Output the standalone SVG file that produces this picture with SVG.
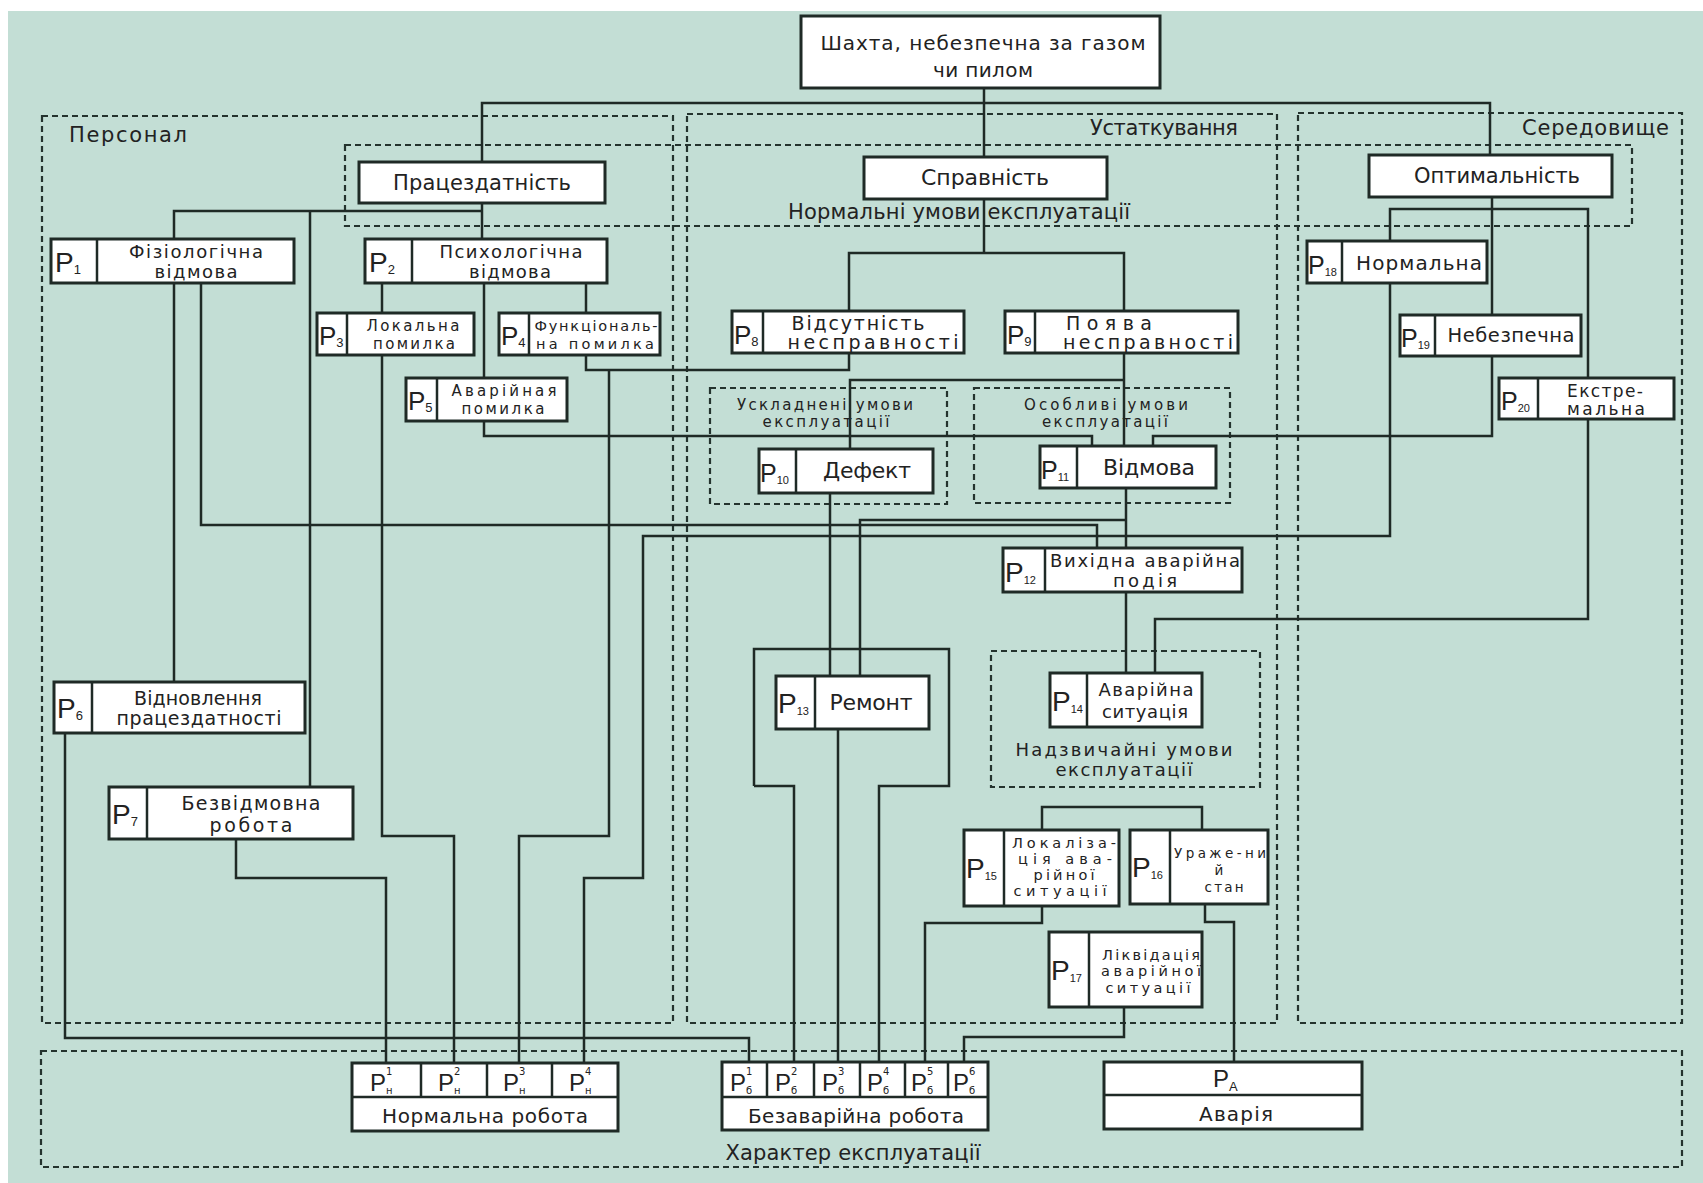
<svg xmlns="http://www.w3.org/2000/svg" width="1703" height="1183" viewBox="0 0 1703 1183">
<style>
.bg{fill:#c3ded5}
.box{fill:#fff;stroke:#1f2a26;stroke-width:3}
.dv{stroke:#1f2a26;stroke-width:2.5}
.dash{fill:none;stroke:#24332e;stroke-width:2.2;stroke-dasharray:6 4}
.ln{fill:none;stroke:#1f2a26;stroke-width:2.5}
text{font-family:"DejaVu Sans","Liberation Sans",Arial,sans-serif;fill:#222}
.t{text-anchor:middle}
.pl{font-family:"Liberation Sans",Arial,sans-serif;font-size:28px}
.sb{font-size:13px}
.sb2{font-size:11px}
.f21{font-size:21px}
.f19{font-size:19px}
.f18{font-size:18px}
.f17{font-size:17px}
.f16{font-size:15px}
.f15{font-size:14.5px}
.f14{font-size:13.5px}
.cp{font-family:"Liberation Sans",Arial,sans-serif;font-size:24px}
.cs{font-size:10px}
</style>
<rect x="0" y="0" width="1703" height="1183" fill="#ffffff"/>
<rect class="bg" x="8" y="11" width="1695" height="1172"/>

<g id="regions">
  <rect class="dash" x="42" y="116" width="631" height="907"/>
  <rect class="dash" x="687" y="114" width="590" height="909"/>
  <rect class="dash" x="1298" y="113" width="384" height="910"/>
  <rect class="dash" x="345" y="145" width="1287" height="81"/>
  <rect class="dash" x="710" y="388" width="237" height="116"/>
  <rect class="dash" x="974" y="388" width="256" height="115"/>
  <rect class="dash" x="991" y="651" width="269" height="136"/>
  <rect class="dash" x="41" y="1051" width="1641" height="116"/>
  <text class="f21" x="69" y="142" textLength="118">Персонал</text>
  <text class="f21" x="1238" y="135" text-anchor="end" textLength="148">Устаткування</text>
  <text class="f21" x="1669" y="135" text-anchor="end" textLength="147">Середовище</text>
  <text class="f21 t" x="959" y="219" textLength="342">Нормальні умови експлуатації</text>
  <text class="f16 t" x="825" y="410" textLength="176">Ускладнені умови</text>
  <text class="f16 t" x="826" y="427" textLength="127">експлуатації</text>
  <text class="f16 t" x="1106" y="410" textLength="164">Особливі умови</text>
  <text class="f16 t" x="1105" y="427" textLength="126">експлуатації</text>
  <text class="f18 t" x="1124" y="756" textLength="217">Надзвичайні умови</text>
  <text class="f18 t" x="1124" y="776" textLength="137">експлуатації</text>
  <text class="f21 t" x="853" y="1160" textLength="255">Характер експлуатації</text>
</g>

<g id="connectors">
  <path class="ln" d="M984,88 V157"/>
  <path class="ln" d="M482,162 V103 H1490 V155"/>
  <path class="ln" d="M482,203 V239"/>
  <path class="ln" d="M174,239 V211 H482"/>
  <path class="ln" d="M310,211 V787"/>
  <path class="ln" d="M174,283 V682"/>
  <path class="ln" d="M201,283 V525 H1097 V548"/>
  <path class="ln" d="M382,283 V313"/>
  <path class="ln" d="M484,283 V378"/>
  <path class="ln" d="M586,283 V313"/>
  <path class="ln" d="M382,355 V836 H454 V1063"/>
  <path class="ln" d="M586,355 V370 H849 V353"/>
  <path class="ln" d="M609,370 V836 H519 V1063"/>
  <path class="ln" d="M484,421 V436 H1092 V446"/>
  <path class="ln" d="M1153,446 V436 H1492 V356"/>
  <path class="ln" d="M65,733 V1038 H749 V1062"/>
  <path class="ln" d="M236,839 V878 H386 V1063"/>
  <path class="ln" d="M984,199 V253"/>
  <path class="ln" d="M849,311 V253 H1124 V311"/>
  <path class="ln" d="M1124,353 V446"/>
  <path class="ln" d="M1124,380 H850 V449"/>
  <path class="ln" d="M830,493 V676"/>
  <path class="ln" d="M1126,488 V548"/>
  <path class="ln" d="M1126,520 H860 V676"/>
  <path class="ln" d="M754,786 V649 H949 V786 H879 V1062"/>
  <path class="ln" d="M754,786 H794 V1062"/>
  <path class="ln" d="M838,729 V1062"/>
  <path class="ln" d="M1126,592 V673"/>
  <path class="ln" d="M1588,419 V619 H1155 V673"/>
  <path class="ln" d="M1492,196 V315"/>
  <path class="ln" d="M1390,241 V209 H1588 V378"/>
  <path class="ln" d="M1390,283 V536 H643 V878 H584 V1063"/>
  <path class="ln" d="M1042,830 V807 H1202 V830"/>
  <path class="ln" d="M1042,906 V923 H925 V1062"/>
  <path class="ln" d="M1205,904 V922 H1234 V1062"/>
  <path class="ln" d="M1124,1007 V1037 H964 V1062"/>
</g>

<g id="n-shakhta">
  <rect class="box" x="801" y="16" width="359" height="72"/>
  <text class="t" x="983" y="50" style="font-size:20px" textLength="325">Шахта, небезпечна за газом</text>
  <text class="t" x="983" y="77" style="font-size:20px" textLength="100">чи пилом</text>
</g>
<g id="n-pratsezdatnist">
  <rect class="box" x="359" y="162" width="246" height="41"/>
  <text class="f21 t" x="482" y="190" textLength="178">Працездатність</text>
</g>
<g id="n-spravnist">
  <rect class="box" x="864" y="157" width="243" height="42"/>
  <text class="t" x="985" y="185" style="font-size:22px" textLength="128">Справність</text>
</g>
<g id="n-optymalnist">
  <rect class="box" x="1369" y="155" width="243" height="42"/>
  <text class="f21 t" x="1497" y="183" textLength="166">Оптимальність</text>
</g>

<g id="p1">
  <rect class="box" x="51" y="239" width="243" height="44"/><line class="dv" x1="97" y1="239" x2="97" y2="283"/>
  <text class="pl" x="55" y="272">P<tspan class="sb" dy="2">1</tspan></text>
  <text class="f18 t" x="196" y="258" textLength="134">Фізіологічна</text>
  <text class="f18 t" x="196" y="278" textLength="83">відмова</text>
</g>
<g id="p2">
  <rect class="box" x="365" y="239" width="242" height="44"/><line class="dv" x1="412" y1="239" x2="412" y2="283"/>
  <text class="pl" x="369" y="272">P<tspan class="sb" dy="2">2</tspan></text>
  <text class="f18 t" x="511" y="258" textLength="143">Психологічна</text>
  <text class="f18 t" x="510" y="278" textLength="82">відмова</text>
</g>
<g id="p3">
  <rect class="box" x="317" y="313" width="157" height="42"/><line class="dv" x1="347" y1="313" x2="347" y2="355"/>
  <text class="pl" x="319" y="345" style="font-size:26px">P<tspan class="sb" dy="2">3</tspan></text>
  <text class="f16 t" x="413" y="331" textLength="93">Локальна</text>
  <text class="f16 t" x="414" y="349" textLength="82">помилка</text>
</g>
<g id="p4">
  <rect class="box" x="499" y="313" width="161" height="42"/><line class="dv" x1="529" y1="313" x2="529" y2="355"/>
  <text class="pl" x="501" y="345" style="font-size:26px">P<tspan class="sb" dy="2">4</tspan></text>
  <text class="f15 t" x="596" y="331" textLength="123">Функціональ-</text>
  <text class="f15 t" x="595" y="349" textLength="118">на помилка</text>
</g>
<g id="p5">
  <rect class="box" x="406" y="378" width="161" height="43"/><line class="dv" x1="437" y1="378" x2="437" y2="421"/>
  <text class="pl" x="408" y="410" style="font-size:26px">P<tspan class="sb" dy="2">5</tspan></text>
  <text class="f16 t" x="504" y="396" textLength="105">Аварійная</text>
  <text class="f16 t" x="503" y="414" textLength="83">помилка</text>
</g>
<g id="p6">
  <rect class="box" x="54" y="682" width="251" height="51"/><line class="dv" x1="92" y1="682" x2="92" y2="733"/>
  <text class="pl" x="57" y="718">P<tspan class="sb" dy="2">6</tspan></text>
  <text class="f19 t" x="198" y="705" textLength="128">Відновлення</text>
  <text class="f19 t" x="199" y="725" textLength="165">працездатності</text>
</g>
<g id="p7">
  <rect class="box" x="109" y="787" width="244" height="52"/><line class="dv" x1="147" y1="787" x2="147" y2="839"/>
  <text class="pl" x="112" y="824">P<tspan class="sb" dy="2">7</tspan></text>
  <text class="f19 t" x="251" y="810" textLength="139">Безвідмовна</text>
  <text class="f19 t" x="251" y="832" textLength="83">робота</text>
</g>
<g id="p8">
  <rect class="box" x="732" y="311" width="232" height="42"/><line class="dv" x1="763" y1="311" x2="763" y2="353"/>
  <text class="pl" x="734" y="344" style="font-size:26px">P<tspan class="sb" dy="2">8</tspan></text>
  <text class="f19 t" x="858" y="330" textLength="133">Відсутність</text>
  <text class="f19 t" x="873" y="349" textLength="171">несправності</text>
</g>
<g id="p9">
  <rect class="box" x="1005" y="311" width="233" height="42"/><line class="dv" x1="1035" y1="311" x2="1035" y2="353"/>
  <text class="pl" x="1007" y="344" style="font-size:26px">P<tspan class="sb" dy="2">9</tspan></text>
  <text class="f19 t" x="1109" y="330" textLength="86">Поява</text>
  <text class="f19 t" x="1148" y="349" textLength="170">несправності</text>
</g>
<g id="p10">
  <rect class="box" x="759" y="449" width="174" height="44"/><line class="dv" x1="796" y1="449" x2="796" y2="493"/>
  <text class="pl" x="760" y="482" style="font-size:25px">P<tspan class="sb2" dy="2">10</tspan></text>
  <text class="t" x="867" y="478" style="font-size:22px" textLength="88">Дефект</text>
</g>
<g id="p11">
  <rect class="box" x="1040" y="446" width="176" height="42"/><line class="dv" x1="1077" y1="446" x2="1077" y2="488"/>
  <text class="pl" x="1041" y="479" style="font-size:25px">P<tspan class="sb2" dy="2">11</tspan></text>
  <text class="t" x="1149" y="475" style="font-size:22px" textLength="92">Відмова</text>
</g>
<g id="p12">
  <rect class="box" x="1003" y="548" width="239" height="44"/><line class="dv" x1="1045" y1="548" x2="1045" y2="592"/>
  <text class="pl" x="1005" y="582">P<tspan class="sb2" dy="2">12</tspan></text>
  <text class="f18 t" x="1145" y="567" textLength="190">Вихідна аварійна</text>
  <text class="f18 t" x="1145" y="587" textLength="64">подія</text>
</g>
<g id="p13">
  <rect class="box" x="776" y="676" width="153" height="53"/><line class="dv" x1="815" y1="676" x2="815" y2="729"/>
  <text class="pl" x="778" y="713">P<tspan class="sb2" dy="2">13</tspan></text>
  <text class="t" x="871" y="710" style="font-size:22px" textLength="83">Ремонт</text>
</g>
<g id="p14">
  <rect class="box" x="1050" y="673" width="152" height="54"/><line class="dv" x1="1087" y1="673" x2="1087" y2="727"/>
  <text class="pl" x="1052" y="711">P<tspan class="sb2" dy="2">14</tspan></text>
  <text class="f18 t" x="1146" y="696" textLength="95">Аварійна</text>
  <text class="f18 t" x="1145" y="718" textLength="86">ситуація</text>
</g>
<g id="p15">
  <rect class="box" x="964" y="830" width="155" height="76"/><line class="dv" x1="1004" y1="830" x2="1004" y2="906"/>
  <text class="pl" x="966" y="878">P<tspan class="sb2" dy="2">15</tspan></text>
  <text class="f15 t" x="1064" y="848" textLength="104">Локаліза-</text>
  <text class="f15 t" x="1065" y="864" textLength="94">ція ава-</text>
  <text class="f15 t" x="1064" y="880" textLength="61">рійної</text>
  <text class="f15 t" x="1060" y="896" textLength="93">ситуації</text>
</g>
<g id="p16">
  <rect class="box" x="1130" y="830" width="138" height="74"/><line class="dv" x1="1170" y1="830" x2="1170" y2="904"/>
  <text class="pl" x="1132" y="877">P<tspan class="sb2" dy="2">16</tspan></text>
  <text class="f14 t" x="1220" y="858" textLength="92">Ураже-ни</text>
  <text class="f14 t" x="1219" y="875">й</text>
  <text class="f14 t" x="1224" y="892" textLength="39">стан</text>
</g>
<g id="p17">
  <rect class="box" x="1049" y="932" width="153" height="75"/><line class="dv" x1="1089" y1="932" x2="1089" y2="1007"/>
  <text class="pl" x="1051" y="980">P<tspan class="sb2" dy="2">17</tspan></text>
  <text class="f15 t" x="1151" y="960" textLength="98">Ліквідація</text>
  <text class="f15 t" x="1151" y="976" textLength="100">аварійної</text>
  <text class="f15 t" x="1148" y="993" textLength="85">ситуації</text>
</g>
<g id="p18">
  <rect class="box" x="1307" y="241" width="180" height="42"/><line class="dv" x1="1342" y1="241" x2="1342" y2="283"/>
  <text class="pl" x="1308" y="274" style="font-size:25px">P<tspan class="sb2" dy="2">18</tspan></text>
  <text class="t" x="1419" y="270" style="font-size:20px" textLength="126">Нормальна</text>
</g>
<g id="p19">
  <rect class="box" x="1400" y="315" width="181" height="41"/><line class="dv" x1="1435" y1="315" x2="1435" y2="356"/>
  <text class="pl" x="1401" y="347" style="font-size:25px">P<tspan class="sb2" dy="2">19</tspan></text>
  <text class="t" x="1511" y="342" style="font-size:19.5px" textLength="127">Небезпечна</text>
</g>
<g id="p20">
  <rect class="box" x="1499" y="378" width="175" height="41"/><line class="dv" x1="1538" y1="378" x2="1538" y2="419"/>
  <text class="pl" x="1501" y="410" style="font-size:25px">P<tspan class="sb2" dy="2">20</tspan></text>
  <text class="f17 t" x="1605" y="397" textLength="76">Екстре-</text>
  <text class="f17 t" x="1606" y="415" textLength="78">мальна</text>
</g>

<g id="normalna-robota">
  <rect class="box" x="352" y="1063" width="266" height="68"/>
  <line class="dv" x1="352" y1="1097" x2="618" y2="1097"/>
  <line class="dv" x1="421" y1="1063" x2="421" y2="1097"/>
  <line class="dv" x1="487" y1="1063" x2="487" y2="1097"/>
  <line class="dv" x1="552" y1="1063" x2="552" y2="1097"/>
  <text class="cp" x="370" y="1091">P</text><text class="cs" x="386" y="1075">1</text><text class="cs" x="386" y="1094">н</text>
  <text class="cp" x="438" y="1091">P</text><text class="cs" x="454" y="1075">2</text><text class="cs" x="454" y="1094">н</text>
  <text class="cp" x="503" y="1091">P</text><text class="cs" x="519" y="1075">3</text><text class="cs" x="519" y="1094">н</text>
  <text class="cp" x="569" y="1091">P</text><text class="cs" x="585" y="1075">4</text><text class="cs" x="585" y="1094">н</text>
  <text class="t" x="485" y="1123" style="font-size:20px" textLength="206">Нормальна робота</text>
</g>
<g id="bezavariina-robota">
  <rect class="box" x="722" y="1062" width="266" height="68"/>
  <line class="dv" x1="722" y1="1097" x2="988" y2="1097"/>
  <line class="dv" x1="767" y1="1062" x2="767" y2="1097"/>
  <line class="dv" x1="814" y1="1062" x2="814" y2="1097"/>
  <line class="dv" x1="860" y1="1062" x2="860" y2="1097"/>
  <line class="dv" x1="905" y1="1062" x2="905" y2="1097"/>
  <line class="dv" x1="948" y1="1062" x2="948" y2="1097"/>
  <text class="cp" x="730" y="1091">P</text><text class="cs" x="746" y="1075">1</text><text class="cs" x="746" y="1094">б</text>
  <text class="cp" x="775" y="1091">P</text><text class="cs" x="791" y="1075">2</text><text class="cs" x="791" y="1094">б</text>
  <text class="cp" x="822" y="1091">P</text><text class="cs" x="838" y="1075">3</text><text class="cs" x="838" y="1094">б</text>
  <text class="cp" x="867" y="1091">P</text><text class="cs" x="883" y="1075">4</text><text class="cs" x="883" y="1094">б</text>
  <text class="cp" x="911" y="1091">P</text><text class="cs" x="927" y="1075">5</text><text class="cs" x="927" y="1094">б</text>
  <text class="cp" x="953" y="1091">P</text><text class="cs" x="969" y="1075">6</text><text class="cs" x="969" y="1094">б</text>
  <text class="t" x="856" y="1123" style="font-size:20px" textLength="216">Безаварійна робота</text>
</g>
<g id="avariia">
  <rect class="box" x="1104" y="1062" width="258" height="67"/>
  <line class="dv" x1="1104" y1="1095" x2="1362" y2="1095"/>
  <text class="cp" x="1213" y="1087">P<tspan class="sb" dy="4">A</tspan></text>
  <text class="t" x="1236" y="1121" style="font-size:20px" textLength="74">Аварія</text>
</g>
</svg>
